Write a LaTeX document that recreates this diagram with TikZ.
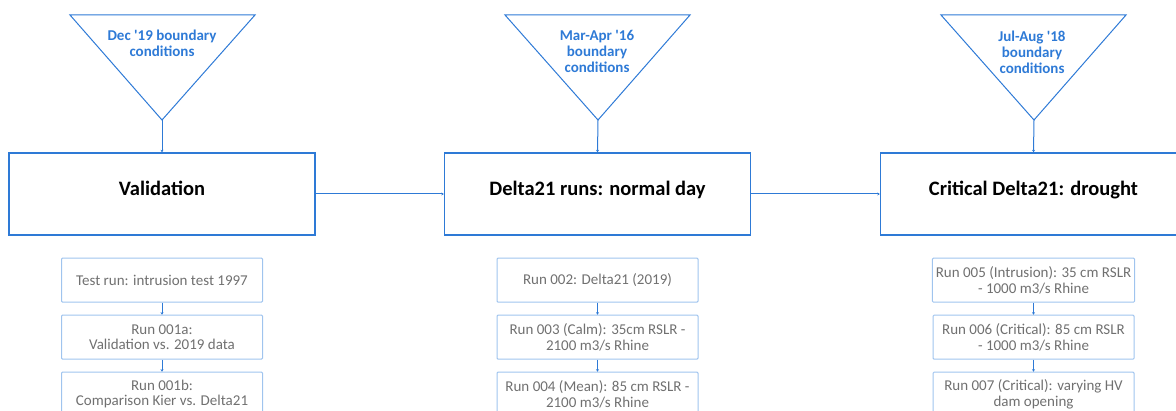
\documentclass[tikz,border=0pt]{standalone}
\usepackage{fontspec}
\setmainfont{Carlito}
\usetikzlibrary{arrows.meta,positioning}
\definecolor{runblue}{RGB}{46,122,214}
\definecolor{runlight}{RGB}{160,196,238}
\definecolor{rungray}{RGB}{112,112,112}
\tikzset{
  phase/.style={draw=runblue, line width=1.4pt, minimum width=306pt, minimum height=82pt,
    font=\fontsize{20.5}{24}\selectfont\bfseries, text height=12pt, text depth=8pt},
  bc/.style={text=runblue, font=\fontsize{15}{16}\selectfont\bfseries, align=center, anchor=north},
  tri/.style={draw=runblue, line width=1pt},
  run/.style={draw=runlight, line width=1pt, rounded corners=1pt, minimum width=201pt,
    minimum height=44pt, text=rungray, font=\fontsize{15}{15.5}\selectfont, align=center},
  link/.style={draw=runblue, line width=1pt, -{Stealth[length=2.5pt,width=3pt]}},
}
\begin{document}
\begin{tikzpicture}[x=1pt,y=-1pt]
  \useasboundingbox (0,0) rectangle (1176,411);
  \clip (0,0) rectangle (1176,411);

  % boundary conditions (triangles)
  \draw[tri] (70,15) -- (255,15) -- (162,120) -- cycle;
  \draw[tri] (505,15) -- (690,15) -- (598,120) -- cycle;
  \draw[tri] (941,15) -- (1126,15) -- (1034,120) -- cycle;
  \coordinate (decTip) at (162,120);
  \coordinate (marTip) at (598,120);
  \coordinate (julTip) at (1034,120);

  \node[bc] (dec) at (162,26) {Dec \textquotesingle19 boundary\\conditions};
  \node[bc] (mar) at (597,27) {Mar-Apr \textquotesingle16\\boundary\\conditions};
  \node[bc] (jul) at (1032,27) {Jul-Aug \textquotesingle18\\boundary\\conditions};

  % main phases
  \node[phase] (val) at (162,194) {Validation};
  \node[phase] (norm) at (597.5,194) {Delta21 runs: normal day};
  \node[phase] (crit) at (1033.5,194) {Critical Delta21: drought};

  \draw[link] (decTip) -- (val.north);
  \draw[link] (marTip) -- (norm.north);
  \draw[link] (julTip) -- (crit.north);
  \draw[link] (val) -- (norm);
  \draw[link] (norm) -- (crit);

  % runs per phase
  \node[run, below=22pt of val] (test) {Test run: intrusion test 1997};
  \node[run, below=12pt of test] (r1a) {Run 001a:\\Validation vs. 2019 data};
  \node[run, below=12pt of r1a] (r1b) {Run 001b:\\Comparison Kier vs. Delta21};

  \node[run, below=22pt of norm] (r2) {Run 002: Delta21 (2019)};
  \node[run, below=12pt of r2] (r3) {Run 003 (Calm): 35cm RSLR -\\2100 m3/s Rhine};
  \node[run, below=12pt of r3] (r4) {Run 004 (Mean): 85 cm RSLR -\\2100 m3/s Rhine};

  \node[run, below=22pt of crit] (r5) {Run 005 (Intrusion): 35 cm RSLR\\- 1000 m3/s Rhine};
  \node[run, below=12pt of r5] (r6) {Run 006 (Critical): 85 cm RSLR\hspace{12pt}\\- 1000 m3/s Rhine};
  \node[run, below=12pt of r6] (r7) {Run 007 (Critical): varying HV\\dam opening};

  \draw[link] (test) -- (r1a);
  \draw[link] (r1a) -- (r1b);
  \draw[link] (r2) -- (r3);
  \draw[link] (r3) -- (r4);
  \draw[link] (r5) -- (r6);
  \draw[link] (r6) -- (r7);
\end{tikzpicture}
\end{document}
